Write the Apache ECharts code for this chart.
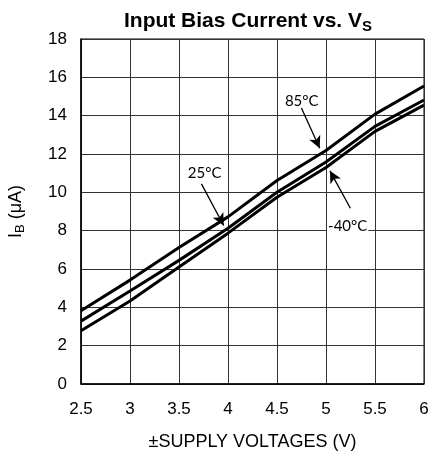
<!DOCTYPE html>
<html><head><meta charset="utf-8">
<script src="https://cdn.jsdelivr.net/npm/echarts@6/dist/echarts.min.js"></script>
<style>html,body{margin:0;padding:0;background:#fff}#c{width:429px;height:456px}</style>
</head><body><div id="c"></div>
<script>
const voltages = [2.5, 3, 3.5, 4, 4.5, 5, 5.5, 6];
const ib85 = [3.82, 5.42, 7.12, 8.72, 10.62, 12.18, 14.08, 15.55];
const ib25 = [3.28, 4.85, 6.45, 8.13, 10.0, 11.58, 13.44, 14.82];
const ibM40 = [2.78, 4.33, 6.1, 7.87, 9.74, 11.3, 13.18, 14.55];
const seriesNames = ['85°C', '25°C', '-40°C'];
const labelPos = [[4.752, 14.76], [3.762, 11.01], [5.221, 8.25]];
const arrowFrom = [[4.749, 14.40], [3.729, 10.44], [5.249, 9.17]];
const arrowTo = [[4.936, 12.30], [3.956, 8.27], [5.040, 11.12]];

const FONT = '"Liberation Sans", Arial, sans-serif';
const chart = echarts.init(document.getElementById('c'));
const mk = (vals) => voltages.map((v, i) => [v, vals[i]]);
const lineSeries = [ib85, ib25, ibM40].map((vals, i) => ({
  name: seriesNames[i], type: 'line', data: mk(vals), showSymbol: false, smooth: false,
  lineStyle: { color: '#000', width: 3 }, z: 3
}));
lineSeries.push({
  type: 'line', data: [], z: 5,
  markLine: {
    silent: true, symbol: ['none', 'arrow'], symbolSize: [9, 12],
    lineStyle: { color: '#000', width: 1.3, type: 'solid' }, label: { show: false },
    data: arrowFrom.map((f, i) => [{ coord: f }, { coord: arrowTo[i] }])
  },
  markPoint: {
    silent: true, symbol: 'rect', symbolSize: 0,
    label: { show: true, position: 'inside', color: '#000', fontFamily: 'Lato, "Open Sans", sans-serif', fontSize: 15,
      formatter: p => p.name },
    data: labelPos.map((c, i) => ({ name: seriesNames[i], coord: c,
      label: i === 2 ? { backgroundColor: '#fff', padding: [1, 1] } : {} }))
  }
});
chart.setOption({
  animation: false,
  backgroundColor: '#fff',
  title: {
    text: 'Input Bias Current vs. V{s|S}', left: 243, textAlign: 'center', top: 3,
    textStyle: { fontFamily: FONT, fontWeight: 'bold', fontSize: 21, color: '#000',
      rich: { s: { fontFamily: FONT, fontWeight: 'bold', fontSize: 15, color: '#000', padding: [11, 0, 0, 0] } } }
  },
  grid: { left: 81, right: 5, top: 39, bottom: 72, show: true, borderColor: '#000', borderWidth: 1,
    containLabel: false, outerBoundsMode: 'none' },
  xAxis: {
    type: 'value', min: 2.5, max: 6, interval: 0.5,
    name: '±SUPPLY VOLTAGES (V)', nameLocation: 'middle', nameGap: 49,
    nameTextStyle: { fontFamily: FONT, fontSize: 18, color: '#000' },
    axisLine: { show: true, lineStyle: { color: '#000', width: 1.5 } }, axisTick: { show: false },
    axisLabel: { fontFamily: FONT, fontSize: 17, color: '#000', margin: 17 },
    splitLine: { show: true, lineStyle: { color: '#333', width: 1 } }
  },
  yAxis: {
    type: 'value', min: 0, max: 18, interval: 2,
    name: 'I{s|B} (μA)', nameLocation: 'middle', nameGap: 54, nameRotate: 90,
    nameTextStyle: { fontFamily: FONT, fontSize: 18, color: '#000',
      rich: { s: { fontFamily: FONT, fontSize: 13, color: '#000', padding: [9, 0, 0, 0] } } },
    axisLine: { show: true, lineStyle: { color: '#000', width: 1.5 } }, axisTick: { show: false },
    axisLabel: { fontFamily: FONT, fontSize: 17, color: '#000', margin: 14 },
    splitLine: { show: true, lineStyle: { color: '#333', width: 1 } }
  },
  series: lineSeries
});
</script></body></html>
